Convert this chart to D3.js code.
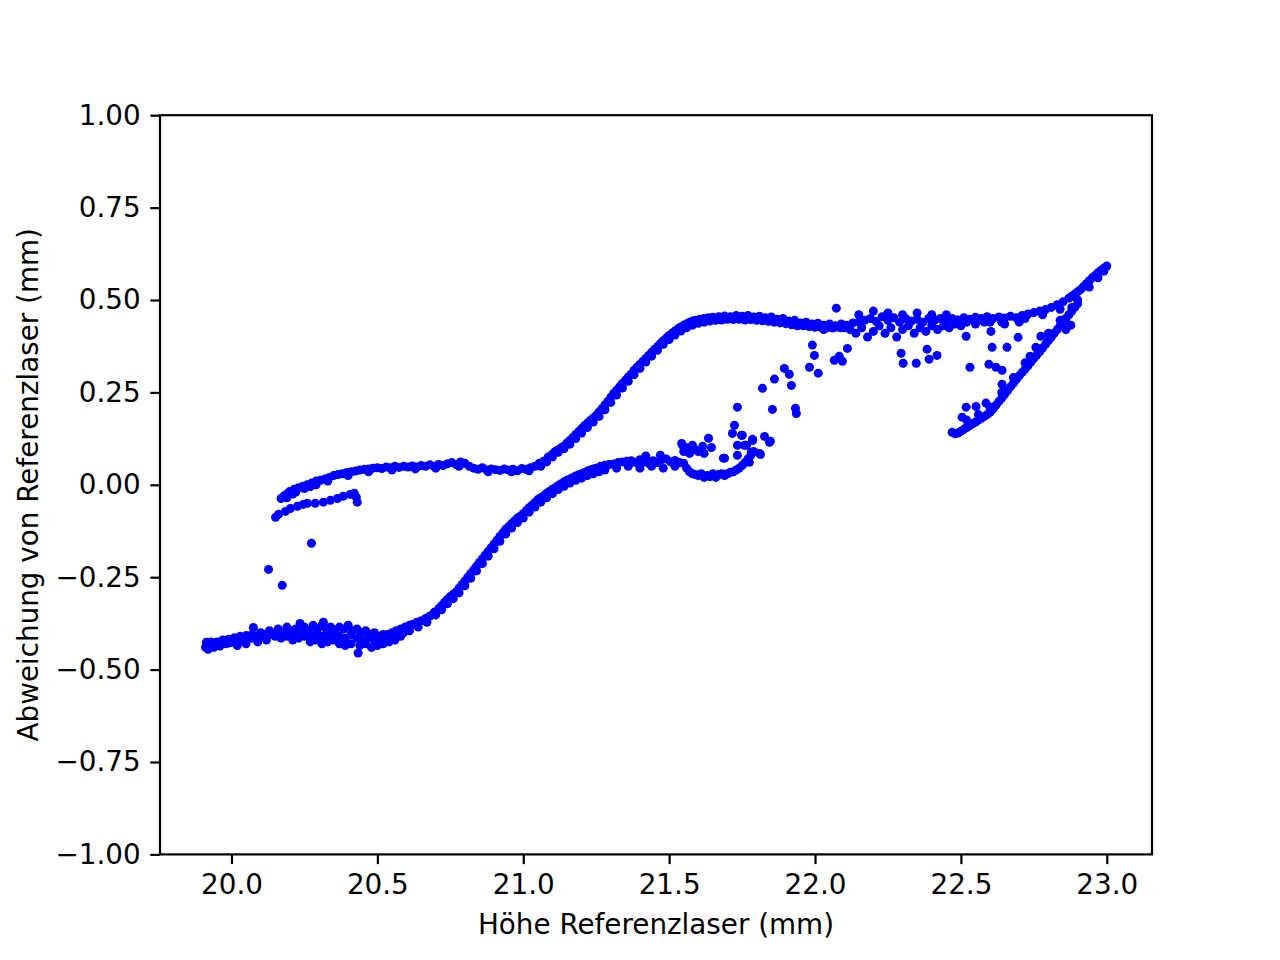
<!DOCTYPE html>
<html>
<head>
<meta charset="utf-8">
<script src="https://cdn.jsdelivr.net/npm/d3@7"></script>
<style>
body { margin: 0; background: #fff; }
</style>
</head>
<body>
<div id="chart"></div>
<script>
const WIDTH = 1280;
const HEIGHT = 960;
const MARGIN = { left: 160, right: 128, top: 115.2, bottom: 105.6 };
const DOT_COLOR = 'blue';
const DOT_RADIUS = 4.5;
const FONT = 'DejaVu Sans, sans-serif';
const FONT_SIZE = 27.8;
const TICK_SIZE = 9.7;
const LINE_WIDTH = 2.2;

const X_TICKS = [20.0, 20.5, 21.0, 21.5, 22.0, 22.5, 23.0];
const Y_TICKS = [-1.0, -0.75, -0.5, -0.25, 0.0, 0.25, 0.5, 0.75, 1.0];
const X_LABEL = 'Höhe Referenzlaser (mm)';
const Y_LABEL = 'Abweichung von Referenzlaser (mm)';

// lower left plateau, upper row
const lowerBand = [[19.911,-0.44],[19.914,-0.426],[19.92,-0.445],[19.93,-0.432],[19.94,-0.44],[19.95,-0.425],[19.96,-0.436],[19.97,-0.42],[19.98,-0.43],[19.99,-0.418],[20.00,-0.426],[20.01,-0.414],[20.02,-0.42],[20.02,-0.435],[20.03,-0.41],[20.04,-0.42],[20.05,-0.408],[20.05,-0.43],[20.06,-0.415],[20.07,-0.405],[20.075,-0.386],[20.085,-0.41],[20.09,-0.425],[20.10,-0.40],[20.115,-0.405],[20.12,-0.42],[20.13,-0.395],[20.145,-0.402],[20.16,-0.39],[20.175,-0.40],[20.19,-0.385],[20.205,-0.395],[20.22,-0.39],[20.235,-0.375],[20.25,-0.385],[20.265,-0.395],[20.28,-0.38],[20.295,-0.39],[20.31,-0.38],[20.315,-0.372],[20.325,-0.39],[20.34,-0.385],[20.355,-0.395],[20.37,-0.385],[20.385,-0.39],[20.40,-0.38],[20.415,-0.395],[20.43,-0.39],[20.445,-0.40],[20.46,-0.395],[20.475,-0.405],[20.49,-0.40],[20.505,-0.41],[20.52,-0.405],[20.535,-0.405],[20.55,-0.40],[20.565,-0.395],[20.58,-0.39],[20.595,-0.385],[20.61,-0.38]];

// lower left plateau, middle row
const lowerBandMid = [[19.93,-0.425],[19.95,-0.435],[19.97,-0.43],[19.99,-0.428],[20.01,-0.425],[20.03,-0.42],[20.05,-0.418],[20.07,-0.415],[20.09,-0.41],[20.11,-0.41],[20.13,-0.405],[20.15,-0.4],[20.17,-0.405],[20.19,-0.4],[20.21,-0.405],[20.23,-0.4],[20.25,-0.4],[20.27,-0.41],[20.29,-0.405],[20.31,-0.41],[20.33,-0.405],[20.35,-0.41],[20.37,-0.41],[20.39,-0.415],[20.41,-0.405],[20.43,-0.415],[20.45,-0.42],[20.47,-0.415],[20.49,-0.42],[20.51,-0.42],[20.53,-0.415],[20.55,-0.415],[20.57,-0.405],[20.59,-0.4],[20.61,-0.395]];

// lower left plateau, lower row
const lowerReturn = [[20.15,-0.41],[20.17,-0.415],[20.19,-0.41],[20.21,-0.42],[20.23,-0.415],[20.25,-0.41],[20.27,-0.425],[20.29,-0.42],[20.31,-0.43],[20.33,-0.425],[20.35,-0.42],[20.37,-0.43],[20.39,-0.435],[20.41,-0.43],[20.434,-0.455],[20.44,-0.435],[20.46,-0.43],[20.48,-0.44],[20.50,-0.435],[20.52,-0.43],[20.54,-0.425],[20.56,-0.42],[20.58,-0.41]];

// lower S curve
const lowerRise = [[20.62,-0.378],[20.635,-0.372],[20.65,-0.368],[20.665,-0.362],[20.68,-0.355],[20.695,-0.345],[20.71,-0.335],[20.72,-0.327],[20.73,-0.318],[20.74,-0.31],[20.75,-0.302],[20.76,-0.296],[20.77,-0.29],[20.78,-0.28],[20.79,-0.27],[20.80,-0.26],[20.81,-0.25],[20.82,-0.24],[20.83,-0.23],[20.84,-0.22],[20.85,-0.21],[20.86,-0.20],[20.87,-0.19],[20.88,-0.18],[20.89,-0.17],[20.90,-0.16],[20.91,-0.15],[20.92,-0.14],[20.93,-0.13],[20.94,-0.12],[20.95,-0.113],[20.96,-0.105],[20.97,-0.098],[20.98,-0.09],[20.99,-0.085],[21.00,-0.078],[21.01,-0.07],[21.02,-0.062],[21.03,-0.055],[21.04,-0.048],[21.05,-0.04],[21.06,-0.035],[21.07,-0.03],[21.08,-0.023],[21.09,-0.018],[21.10,-0.012],[21.11,-0.008],[21.12,-0.002],[21.13,0.003],[21.14,0.008],[21.15,0.012],[21.16,0.016],[21.17,0.02],[21.18,0.024],[21.19,0.027],[21.20,0.03],[21.21,0.033],[21.22,0.037],[21.23,0.04],[21.24,0.043],[21.25,0.045],[21.265,0.05],[21.28,0.053],[21.28,0.04],[21.295,0.055],[21.31,0.056],[21.32,0.045],[21.325,0.06],[21.34,0.062],[21.355,0.064],[21.36,0.05],[21.37,0.065],[21.385,0.06],[21.40,0.068],[21.40,0.045],[21.415,0.062],[21.42,0.078],[21.43,0.058],[21.44,0.05],[21.445,0.065],[21.46,0.06],[21.47,0.08],[21.475,0.068],[21.48,0.045],[21.49,0.07],[21.505,0.062],[21.52,0.066],[21.52,0.05],[21.535,0.06],[21.55,0.058]];

// lower S curve, second row
const lowerRise2 = [[20.64,-0.385],[20.67,-0.372],[20.70,-0.352],[20.72,-0.338],[20.74,-0.322],[20.76,-0.308],[20.78,-0.292],[20.80,-0.273],[20.82,-0.253],[20.84,-0.233],[20.86,-0.213],[20.88,-0.193],[20.90,-0.173],[20.92,-0.153],[20.94,-0.133],[20.96,-0.117],[20.98,-0.102],[21.00,-0.09],[21.02,-0.074],[21.04,-0.06],[21.06,-0.047],[21.08,-0.035],[21.10,-0.024],[21.12,-0.013],[21.14,-0.004],[21.16,0.005],[21.18,0.012],[21.20,0.018],[21.22,0.025],[21.24,0.03],[21.26,0.035]];

// lower plateau before the jump
const lowerPlateau = [[21.56,0.045],[21.57,0.035],[21.58,0.03],[21.59,0.028],[21.60,0.025],[21.61,0.03],[21.62,0.02],[21.63,0.025],[21.64,0.022],[21.65,0.03],[21.66,0.02],[21.67,0.028],[21.68,0.03],[21.69,0.025],[21.70,0.03],[21.71,0.034],[21.72,0.035],[21.73,0.04],[21.74,0.045],[21.75,0.052],[21.76,0.06],[21.77,0.07],[21.78,0.08],[21.79,0.09],[21.543,0.112],[21.546,0.107],[21.55,0.09],[21.56,0.1],[21.57,0.085],[21.58,0.107],[21.59,0.095],[21.60,0.09],[21.615,0.104],[21.62,0.085],[21.635,0.126],[21.645,0.101]];

// scattered points of the jump
const jumpPoints = [[21.686,0.072],[21.69,0.072],[21.717,0.139],[21.724,0.161],[21.734,0.21],[21.734,0.107],[21.734,0.08],[21.748,0.134],[21.751,0.134],[21.758,0.107],[21.765,0.107],[21.775,0.061],[21.782,0.088],[21.786,0.12],[21.786,0.123],[21.81,0.085],[21.813,0.082],[21.82,0.261],[21.827,0.131],[21.844,0.115],[21.847,0.118],[21.854,0.204],[21.861,0.286],[21.895,0.315],[21.912,0.299],[21.919,0.269],[21.933,0.207],[21.936,0.193],[21.981,0.318],[21.991,0.378],[21.998,0.35],[22.011,0.302],[22.066,0.337],[22.073,0.478],[22.083,0.348],[22.094,0.334],[22.111,0.369]];

// upper branch
const upperBranch = [[20.17,-0.037],[20.18,-0.03],[20.19,-0.025],[20.19,-0.035],[20.2,-0.018],[20.215,-0.012],[20.22,-0.02],[20.23,-0.008],[20.245,-0.004],[20.25,-0.01],[20.26,0.0],[20.275,0.005],[20.29,0.01],[20.29,0.0],[20.305,0.012],[20.32,0.016],[20.335,0.02],[20.35,0.025],[20.365,0.028],[20.38,0.03],[20.395,0.033],[20.41,0.035],[20.425,0.037],[20.44,0.04],[20.455,0.042],[20.47,0.043],[20.485,0.045],[20.5,0.046],[20.515,0.044],[20.53,0.048],[20.545,0.046],[20.56,0.05],[20.575,0.047],[20.59,0.05],[20.605,0.048],[20.62,0.051],[20.635,0.048],[20.65,0.052],[20.665,0.05],[20.68,0.054],[20.695,0.05],[20.71,0.055],[20.725,0.052],[20.74,0.057],[20.755,0.06],[20.77,0.055],[20.785,0.062],[20.8,0.058],[20.815,0.05],[20.83,0.045],[20.845,0.042],[20.86,0.046],[20.875,0.04],[20.89,0.043],[20.905,0.041],[20.92,0.039],[20.935,0.043],[20.95,0.04],[20.965,0.042],[20.98,0.038],[20.995,0.044],[21.01,0.042],[21.025,0.046],[21.04,0.05],[21.055,0.058],[21.07,0.064],[21.085,0.075],[21.1,0.083],[21.11,0.09],[21.12,0.095],[21.13,0.1],[21.14,0.105],[21.15,0.113],[21.16,0.12],[21.17,0.128],[21.18,0.136],[21.19,0.144],[21.2,0.152],[21.21,0.16],[21.22,0.167],[21.23,0.174],[21.24,0.181],[21.25,0.188],[21.26,0.197],[21.27,0.206],[21.28,0.216],[21.29,0.226],[21.3,0.237],[21.31,0.247],[21.32,0.256],[21.33,0.265],[21.34,0.274],[21.35,0.283],[21.36,0.292],[21.37,0.3],[21.38,0.31],[21.39,0.318],[21.4,0.326],[21.41,0.334],[21.42,0.342],[21.43,0.35],[21.44,0.358],[21.45,0.366],[21.46,0.374],[21.47,0.382],[21.48,0.39],[21.49,0.397],[21.5,0.404],[21.51,0.41],[21.52,0.416],[21.53,0.422],[21.54,0.427],[21.55,0.432],[21.56,0.436],[21.57,0.44],[21.58,0.443],[21.59,0.445],[21.605,0.448],[21.62,0.45],[21.635,0.452],[21.65,0.453],[21.67,0.455],[21.69,0.457],[21.71,0.455],[21.73,0.458],[21.75,0.456],[21.77,0.458],[21.79,0.454],[21.81,0.456],[21.83,0.452],[21.85,0.454],[21.87,0.448],[21.89,0.45],[21.91,0.443],[21.93,0.445],[21.95,0.438],[21.97,0.44],[21.99,0.435],[22.01,0.437],[22.03,0.432],[22.05,0.435],[22.07,0.43],[22.09,0.435],[22.11,0.432],[22.13,0.438],[22.15,0.44],[22.17,0.445],[22.19,0.45],[22.21,0.442],[22.23,0.455],[22.25,0.445],[22.27,0.452],[22.29,0.44],[22.31,0.45],[22.33,0.443],[22.35,0.448],[22.37,0.44],[22.39,0.45],[22.41,0.445],[22.43,0.45],[22.45,0.447],[22.47,0.45],[22.49,0.446],[22.51,0.452],[22.53,0.448],[22.55,0.453],[22.57,0.45],[22.59,0.455],[22.61,0.45],[22.63,0.454],[22.65,0.451],[22.67,0.456],[22.69,0.452],[22.71,0.458],[22.73,0.462],[22.75,0.466],[22.77,0.47],[22.79,0.474],[22.81,0.48],[22.83,0.487],[22.85,0.495],[22.87,0.505],[22.88,0.51],[22.89,0.516],[22.9,0.522],[22.91,0.528],[22.92,0.536],[22.93,0.544],[22.94,0.552],[22.95,0.56],[22.96,0.566],[22.97,0.574],[22.98,0.58],[22.99,0.586],[23.0,0.592]];

// upper branch, second row
const upperBranch2 = [[20.21,-0.025],[20.27,-0.005],[20.33,0.01],[20.40,0.025],[20.47,0.035],[20.55,0.04],[20.63,0.043],[20.70,0.045],[20.78,0.05],[20.88,0.035],[20.96,0.035],[21.02,0.038],[21.06,0.05],[21.08,0.062],[21.10,0.075],[21.12,0.088],[21.14,0.098],[21.16,0.11],[21.18,0.125],[21.20,0.14],[21.22,0.155],[21.24,0.17],[21.26,0.185],[21.28,0.203],[21.30,0.223],[21.32,0.243],[21.34,0.262],[21.36,0.28],[21.38,0.298],[21.40,0.315],[21.42,0.332],[21.44,0.348],[21.46,0.364],[21.48,0.38],[21.50,0.393],[21.52,0.405],[21.54,0.416],[21.56,0.425],[21.58,0.432],[21.60,0.437],[21.62,0.44],[21.64,0.443],[21.66,0.445],[21.68,0.446],[21.70,0.448],[21.72,0.447],[21.74,0.448],[21.76,0.446],[21.78,0.447],[21.80,0.445],[21.82,0.444],[21.84,0.442],[21.86,0.44],[21.88,0.438],[21.90,0.436],[21.92,0.433],[21.94,0.43],[21.96,0.43],[21.98,0.428],[22.00,0.426],[22.02,0.427],[22.04,0.425],[22.06,0.424],[22.08,0.426],[22.10,0.425],[22.45,0.435],[22.52,0.44],[22.58,0.44],[22.64,0.44],[22.72,0.45],[22.78,0.46],[22.84,0.475],[22.90,0.5],[22.94,0.535],[22.97,0.56],[22.99,0.578]];

// noise around the upper plateau
const upperNoise = [[22.03,0.42],[22.09,0.425],[22.12,0.42],[22.14,0.41],[22.15,0.46],[22.16,0.425],[22.18,0.4],[22.2,0.415],[22.2,0.47],[22.22,0.43],[22.24,0.41],[22.25,0.465],[22.26,0.425],[22.28,0.4],[22.3,0.42],[22.3,0.46],[22.32,0.43],[22.34,0.41],[22.35,0.465],[22.36,0.425],[22.38,0.415],[22.4,0.43],[22.4,0.46],[22.42,0.42],[22.44,0.43],[22.45,0.46],[22.46,0.425],[22.48,0.435],[22.5,0.43],[22.55,0.435],[22.6,0.44],[22.65,0.435],[22.7,0.44]];

// scattered points below the upper plateau
const rightStrays = [[22.295,0.356],[22.302,0.329],[22.347,0.329],[22.384,0.367],[22.391,0.34],[22.418,0.35],[22.518,0.402],[22.531,0.318],[22.603,0.415],[22.607,0.372],[22.658,0.372],[22.696,0.399],[22.596,0.326],[22.62,0.318],[22.641,0.31],[22.641,0.272],[22.774,0.402],[22.757,0.372],[22.737,0.348],[22.518,0.21],[22.552,0.212],[22.586,0.221],[22.504,0.183]];

// right rising branch
const returnBranch = [[22.47,0.142],[22.48,0.138],[22.49,0.14],[22.5,0.145],[22.51,0.15],[22.52,0.155],[22.52,0.175],[22.53,0.16],[22.54,0.165],[22.55,0.17],[22.56,0.175],[22.56,0.19],[22.57,0.18],[22.58,0.185],[22.59,0.19],[22.6,0.196],[22.6,0.21],[22.61,0.205],[22.62,0.215],[22.63,0.225],[22.64,0.235],[22.64,0.25],[22.65,0.245],[22.66,0.255],[22.67,0.265],[22.68,0.275],[22.68,0.29],[22.69,0.285],[22.7,0.295],[22.71,0.304],[22.72,0.313],[22.72,0.33],[22.73,0.322],[22.74,0.332],[22.75,0.342],[22.76,0.351],[22.76,0.37],[22.77,0.36],[22.78,0.37],[22.79,0.38],[22.8,0.39],[22.8,0.41],[22.81,0.4],[22.82,0.41],[22.83,0.42],[22.84,0.43],[22.84,0.445],[22.85,0.44],[22.86,0.42],[22.86,0.45],[22.87,0.46],[22.877,0.432],[22.88,0.47],[22.88,0.48],[22.89,0.48],[22.9,0.49]];

// short branch at the upper left
const shortBranch = [[20.151,-0.088],[20.161,-0.08],[20.185,-0.072],[20.202,-0.064],[20.226,-0.058],[20.246,-0.053],[20.26,-0.05],[20.287,-0.05],[20.315,-0.047],[20.339,-0.042],[20.363,-0.037],[20.383,-0.031],[20.407,-0.026],[20.421,-0.023],[20.428,-0.034],[20.431,-0.047]];

const leftStrays = [[20.127,-0.229],[20.174,-0.272],[20.274,-0.158]];

const allPoints = [].concat(lowerBand, lowerBandMid, lowerReturn, lowerRise, lowerRise2, lowerPlateau,
	jumpPoints, upperBranch, upperBranch2, upperNoise, rightStrays, returnBranch, shortBranch, leftStrays);

const main = () => {
	const svg = d3.select('#chart')
		.append('svg')
		.attr('width', WIDTH)
		.attr('height', HEIGHT)
		.style('font-family', FONT);

	// scales (matplotlib style 5% padding)
	const xScale = d3.scaleLinear()
		.domain([19.755, 23.155])
		.range([MARGIN.left, WIDTH - MARGIN.right]);
	const yScale = d3.scaleLinear()
		.domain([-1, 1])
		.range([HEIGHT - MARGIN.bottom, MARGIN.top]);

	// points
	svg.append('g')
		.selectAll('circle')
		.data(allPoints)
		.enter()
		.append('circle')
		.attr('cx', d => xScale(d[0]))
		.attr('cy', d => yScale(d[1]))
		.attr('r', DOT_RADIUS)
		.attr('fill', DOT_COLOR);

	// axes
	const xAxis = d3.axisBottom(xScale)
		.tickValues(X_TICKS)
		.tickFormat(d3.format('.1f'))
		.tickSizeInner(TICK_SIZE)
		.tickSizeOuter(0)
		.tickPadding(TICK_SIZE);
	const yAxis = d3.axisLeft(yScale)
		.tickValues(Y_TICKS)
		.tickFormat(d3.format('.2f'))
		.tickSizeInner(TICK_SIZE)
		.tickSizeOuter(0)
		.tickPadding(TICK_SIZE);

	const gx = svg.append('g')
		.attr('transform', `translate(0, ${HEIGHT - MARGIN.bottom})`)
		.call(xAxis);
	const gy = svg.append('g')
		.attr('transform', `translate(${MARGIN.left}, 0)`)
		.call(yAxis);

	[gx, gy].forEach(g => {
		g.select('.domain').remove();
		g.selectAll('line').attr('stroke', 'black').attr('stroke-width', LINE_WIDTH);
		g.selectAll('text')
			.attr('fill', 'black')
			.style('font-family', FONT)
			.style('font-size', `${FONT_SIZE}px`);
	});

	// frame
	svg.append('rect')
		.attr('x', MARGIN.left)
		.attr('y', MARGIN.top)
		.attr('width', WIDTH - MARGIN.left - MARGIN.right)
		.attr('height', HEIGHT - MARGIN.top - MARGIN.bottom)
		.attr('fill', 'none')
		.attr('stroke', 'black')
		.attr('stroke-width', LINE_WIDTH);

	// labels
	svg.append('text')
		.attr('x', (MARGIN.left + WIDTH - MARGIN.right) / 2)
		.attr('y', 934)
		.style('font-size', `${FONT_SIZE}px`)
		.style('text-anchor', 'middle')
		.text(X_LABEL);

	svg.append('text')
		.attr('transform', `translate(37.5, ${(MARGIN.top + HEIGHT - MARGIN.bottom) / 2}) rotate(-90)`)
		.style('font-size', `${FONT_SIZE}px`)
		.style('text-anchor', 'middle')
		.text(Y_LABEL);
}

main();
</script>
</body>
</html>
